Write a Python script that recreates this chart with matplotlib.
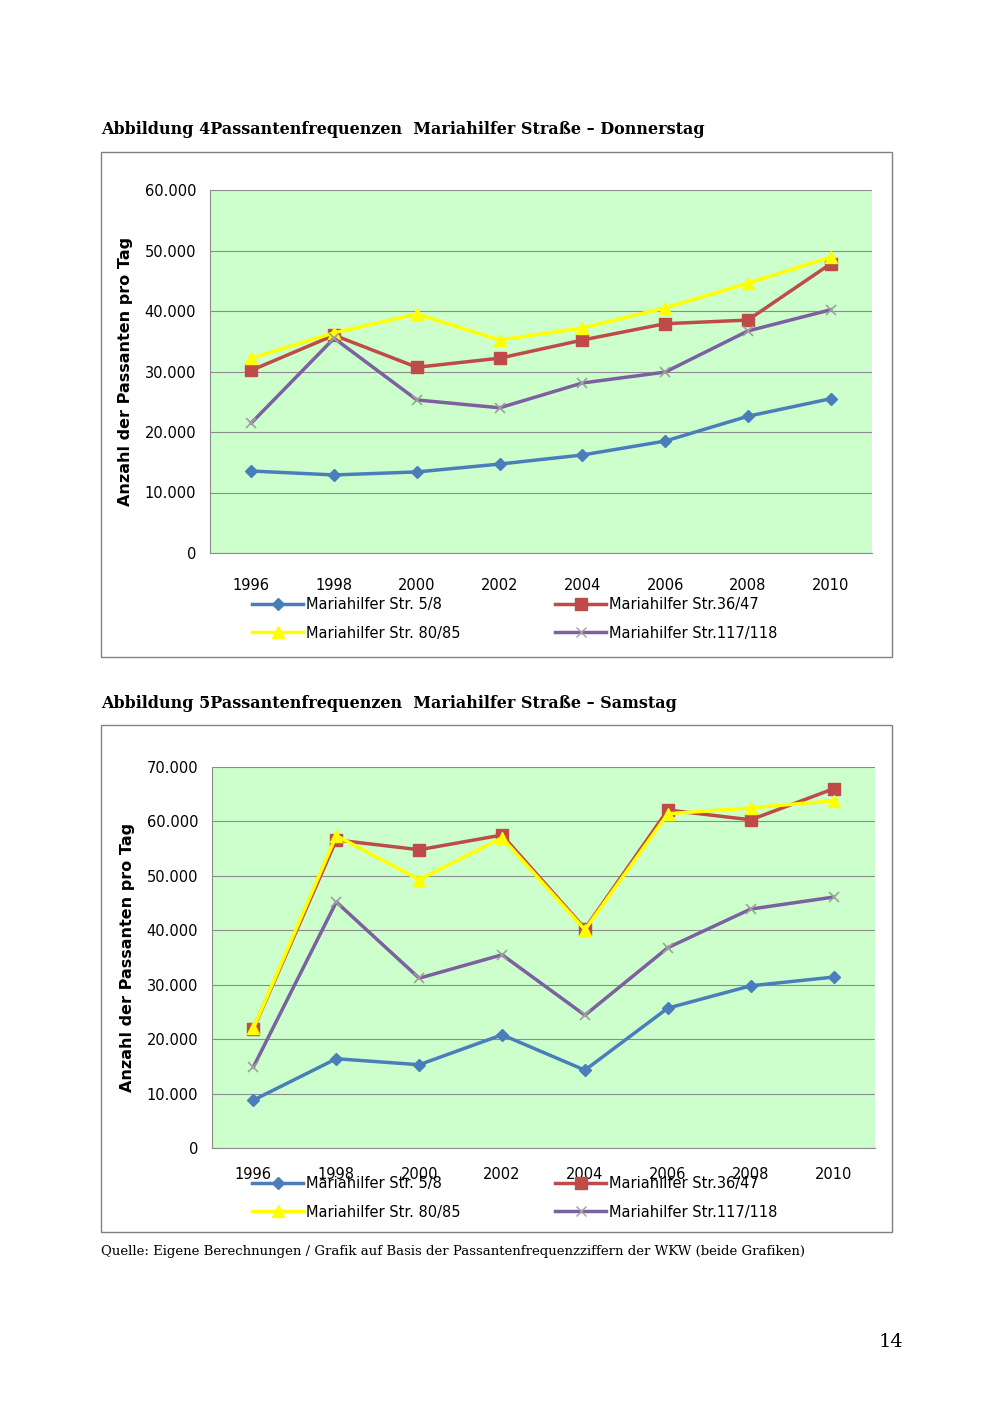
import matplotlib
matplotlib.use("Agg")
import matplotlib.pyplot as plt
from matplotlib.patches import Rectangle
from matplotlib.ticker import FuncFormatter
from matplotlib.lines import Line2D

years = ["1996", "1998", "2000", "2002", "2004", "2006", "2008", "2010"]
labels = ["Mariahilfer Str. 5/8", "Mariahilfer Str.36/47",
          "Mariahilfer Str. 80/85", "Mariahilfer Str.117/118"]

# Donnerstag
do_5_8 = [13550, 12900, 13400, 14700, 16200, 18500, 22600, 25500]
do_36_47 = [30200, 36000, 30700, 32200, 35200, 37900, 38500, 47800]
do_80_85 = [32200, 36400, 39500, 35200, 37200, 40500, 44600, 48900]
do_117_118 = [21500, 35500, 25300, 24000, 28100, 29900, 36700, 40200]

# Samstag
sa_5_8 = [8800, 16400, 15300, 20800, 14300, 25700, 29800, 31400]
sa_36_47 = [21900, 56600, 54800, 57500, 40300, 62100, 60300, 66000]
sa_80_85 = [22000, 57400, 49300, 57000, 40100, 61400, 62500, 63800]
sa_117_118 = [14900, 45200, 31200, 35500, 24400, 36800, 43900, 46100]

colors = ["#4A7EBB", "#BE4B48", "#FFFF00", "#7D60A0"]
markers = ["D", "s", "^", "x"]
msizes = [6, 8, 8, 7]

W, H = 1000, 1414
fig = plt.figure(figsize=(10, 14.14), dpi=100)
fig.patch.set_facecolor("white")

def fx(x): return x / W
def fy(y): return 1 - y / H

fmt = FuncFormatter(lambda v, p: "0" if v == 0 else f"{int(v):,}".replace(",", "."))

def chart(frame, plot, series, ymax, title, title_y, leg_y, xpad):
    fx0, fy0, fx1, fy1 = frame
    fig.patches.append(Rectangle((fx(fx0), fy(fy1)), fx(fx1 - fx0), (fy1 - fy0) / H,
                                 transform=fig.transFigure, fill=False,
                                 edgecolor="#808080", lw=1))
    fig.text(fx(101), fy(title_y), title, fontsize=11.5, fontweight="bold",
             family="DejaVu Serif", va="center")
    px0, py0, px1, py1 = plot
    ax = fig.add_axes([fx(px0), fy(py1), fx(px1 - px0), (py1 - py0) / H])
    ax.set_facecolor("#CCFFCC")
    x = range(len(years))
    for vals, c, m, ms in zip(series, colors, markers, msizes):
        ax.plot(x, vals, color=c, lw=2.5, marker=m, ms=ms,
                mec=c if m != "x" else "#A0A0A0", mew=1.2 if m == "x" else 1)
    ax.set_xlim(-0.5, len(years) - 0.5)
    ax.set_ylim(0, ymax)
    ax.set_yticks(range(0, ymax + 1, 10000))
    ax.yaxis.set_major_formatter(fmt)
    ax.set_xticks(list(x))
    ax.set_xticklabels(years)
    ax.tick_params(labelsize=10.5, length=0)
    ax.tick_params(axis="x", pad=xpad)
    ax.tick_params(axis="y", pad=10)
    ax.grid(axis="y", color="#8C8C8C", lw=0.8)
    ax.set_axisbelow(True)
    for s in ["top", "right"]:
        ax.spines[s].set_visible(False)
    ax.spines["left"].set_color("#8C8C8C")
    ax.spines["bottom"].set_color("#8C8C8C")
    ax.set_ylabel("Anzahl der Passanten pro Tag", fontsize=11.5, fontweight="bold", labelpad=8)
    handles = [Line2D([], [], color=c, lw=2.5, marker=m, ms=ms,
                      mec=c if m != "x" else "#A0A0A0") for c, m, ms in zip(colors, markers, msizes)]
    order = [0, 2, 1, 3]
    fig.legend([handles[i] for i in order], [labels[i] for i in order], ncol=2,
               loc="center", bbox_to_anchor=(fx(515), fy(leg_y)), frameon=False,
               fontsize=10.5, handlelength=3.5, columnspacing=6.5, handletextpad=0.2,
               labelspacing=0.9)
    return ax

chart((101, 152, 892, 657), (210, 190, 872, 553),
      [do_5_8, do_36_47, do_80_85, do_117_118], 60000,
      "Abbildung 4Passantenfrequenzen  Mariahilfer Straße \u2013 Donnerstag", 130, 619, 18)
chart((101, 725, 892, 1232), (212, 767, 875, 1148),
      [sa_5_8, sa_36_47, sa_80_85, sa_117_118], 70000,
      "Abbildung 5Passantenfrequenzen  Mariahilfer Straße \u2013 Samstag", 703, 1198, 14)

fig.text(fx(101), fy(1251), "Quelle: Eigene Berechnungen / Grafik auf Basis der Passantenfrequenzziffern der WKW (beide Grafiken)",
         fontsize=9.5, family="DejaVu Serif", va="center")
fig.text(fx(903), fy(1342), "14", fontsize=14, family="DejaVu Serif", ha="right", va="center")

fig.savefig("out.png", dpi=100)
